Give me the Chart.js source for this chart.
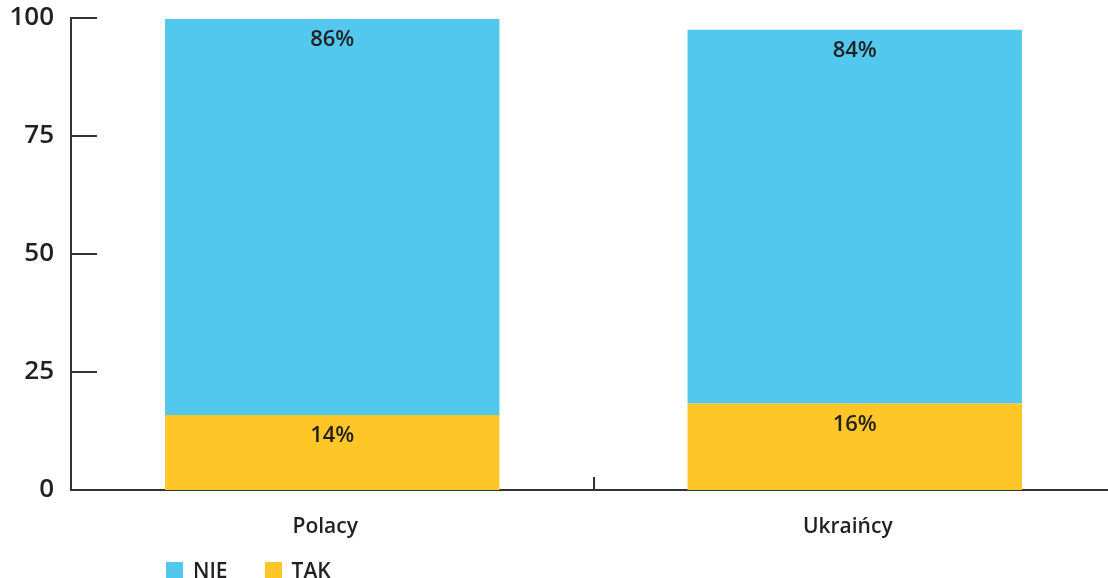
<!DOCTYPE html>
<html>
<head>
<meta charset="utf-8">
<script src="https://cdn.jsdelivr.net/npm/chart.js@4.4.1/dist/chart.umd.min.js"></script>
<style>
  html, body { margin: 0; padding: 0; background: #fff; overflow: hidden; width: 1108px; height: 578px; }
  #wrap { position: relative; width: 1116px; height: 578px; }
  #legend { position: absolute; left: 166px; top: 556px; display: flex; font-family: "Open Sans", sans-serif; font-weight: 600; font-size: 21px; color: #231F20; }
  .item { display: flex; align-items: center; margin-right: 37px; }
  .box { width: 17px; height: 17px; margin-right: 10px; }
</style>
</head>
<body>
<div id="wrap">
  <canvas id="c" width="1116" height="578"></canvas>
  <div id="legend"></div>
</div>
<script>
const categories = ["Polacy", "Ukraińcy"];
const takValues = [15.9, 18.3];
const nieValues = [83.9, 79.2];
const takLabels = ["14%", "16%"];
const nieLabels = ["86%", "84%"];
const yTicks = [0, 25, 50, 75, 100];
const seriesNames = ["NIE", "TAK"];
const colBlue = "#52C8EE";
const colYellow = "#FEC627";
const textCol = "#231F20";
const fontFam = "'Open Sans', sans-serif";

const decor = {
  id: "decor",
  afterDatasetsDraw(chart) {
    const ctx = chart.ctx;
    const y = chart.scales.y, x = chart.scales.x;
    const area = chart.chartArea;
    ctx.save();
    ctx.strokeStyle = "#333";
    ctx.lineWidth = 2;
    yTicks.forEach(v => {
      const py = Math.round(y.getPixelForValue(v));
      ctx.beginPath();
      ctx.moveTo(area.left, py);
      ctx.lineTo(area.left + 26, py);
      ctx.stroke();
    });
    for (let i = 0; i < categories.length - 1; i++) {
      const px = Math.round((x.getPixelForValue(i) + x.getPixelForValue(i + 1)) / 2);
      ctx.beginPath();
      ctx.moveTo(px, area.bottom);
      ctx.lineTo(px, area.bottom - 13);
      ctx.stroke();
    }
    ctx.fillStyle = textCol;
    ctx.font = "600 22px " + fontFam;
    ctx.textAlign = "center";
    ctx.textBaseline = "middle";
    const labelSets = [takLabels, nieLabels];
    chart.data.datasets.forEach((ds, di) => {
      const meta = chart.getDatasetMeta(di);
      meta.data.forEach((bar, i) => {
        ctx.fillText(labelSets[di][i], bar.x, bar.y + 21);
      });
    });
    ctx.restore();
  }
};

new Chart(document.getElementById("c"), {
  type: "bar",
  data: {
    labels: categories,
    datasets: [
      { label: seriesNames[1], data: takValues, backgroundColor: colYellow, barPercentage: 0.8, categoryPercentage: 0.8 },
      { label: seriesNames[0], data: nieValues, backgroundColor: colBlue, barPercentage: 0.8, categoryPercentage: 0.8 }
    ]
  },
  options: {
    responsive: false,
    animation: false,
    layout: { padding: { top: 18, right: 0, bottom: 0, left: 0 } },
    plugins: { legend: { display: false }, tooltip: { enabled: false } },
    scales: {
      x: {
        stacked: true,
        grid: { display: false, drawTicks: false },
        border: { display: true, color: "#333", width: 2 },
        ticks: { color: textCol, font: { family: fontFam, size: 21, weight: "600" }, padding: 24, labelOffset: -7 },
        afterFit(s) { s.height = 88; s.paddingLeft = 0; s.paddingRight = 0; }
      },
      y: {
        stacked: true,
        min: 0, max: 100,
        grid: { display: false, drawTicks: false },
        border: { display: true, color: "#333", width: 2 },
        ticks: { stepSize: 25, color: textCol, font: { family: fontFam, size: 26, weight: "600" }, padding: 17 },
        afterFit(s) { s.width = 71; s.paddingTop = 0; s.paddingBottom = 0; },
        afterBuildTicks(s) { s.ticks = yTicks.map(v => ({ value: v })); }
      }
    }
  },
  plugins: [decor]
});

const legend = document.getElementById("legend");
[[seriesNames[0], colBlue], [seriesNames[1], colYellow]].forEach(([n, c]) => {
  const it = document.createElement("div");
  it.className = "item";
  it.innerHTML = '<div class="box" style="background:' + c + '"></div><span>' + n + '</span>';
  legend.appendChild(it);
});
</script>
</body>
</html>
